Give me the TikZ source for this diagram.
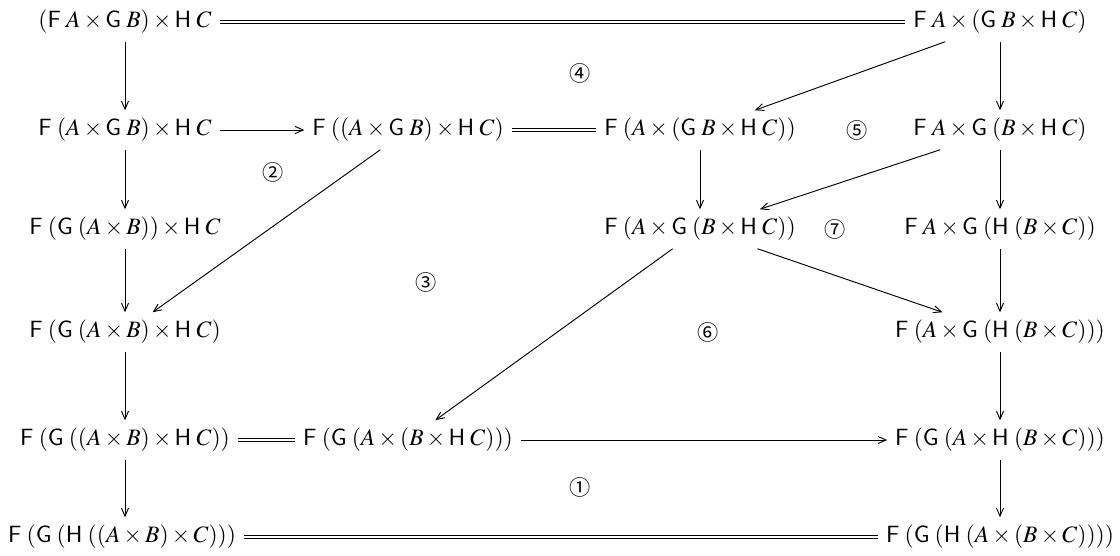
\documentclass[tikz,border=0pt]{standalone}
\usepackage[no-math]{fontspec}
\usepackage{amsmath}
\usepackage{mathptmx}
\newfontfamily\circfont{Noto Sans CJK SC}
\usetikzlibrary{arrows.meta}
\newcommand{\Fn}{\mathsf{F}\;}
\newcommand{\Gn}{\mathsf{G}\;}
\newcommand{\Hn}{\mathsf{H}\;}
\tikzset{
  obj/.style={inner sep=3.2pt},
  mor/.style={-{Straight Barb[length=3.4pt,width=3pt]}},
  iso/.style={double,double distance=1.1pt},
  cell/.style={font=\circfont\small}
}

\begin{document}
\begin{tikzpicture}[x=.425pt,y=-.425pt]
    \useasboundingbox (0,0) rectangle (1120,556);
    % objects
    \node[obj] (a11) at (125,22) {$(\Fn A\times\Gn B)\times\Hn C$};
    \node[obj] (a14) at (1000,22) {$\Fn A\times(\Gn B\times\Hn C)$};
    \node[obj] (a21) at (125,130) {$\Fn (A\times\Gn B)\times\Hn C$};
    \node[obj] (a22) at (408,130) {$\Fn ((A\times\Gn B)\times\Hn C)$};
    \node[obj] (a23) at (700,130) {$\Fn (A\times(\Gn B\times\Hn C))$};
    \node[obj] (a24) at (1000,130) {$\Fn A\times\Gn (B\times\Hn C)$};
    \node[obj] (a31) at (125,229) {$\Fn (\Gn (A\times B))\times\Hn C$};
    \node[obj] (a33) at (700,229) {$\Fn (A\times\Gn (B\times\Hn C))$};
    \node[obj] (a34) at (1000,229) {$\Fn A\times\Gn (\Hn (B\times C))$};
    \node[obj] (a41) at (125,332) {$\Fn (\Gn (A\times B)\times\Hn C)$};
    \node[obj] (a44) at (1000,332) {$\Fn (A\times\Gn (\Hn (B\times C)))$};
    \node[obj] (a51) at (125,440) {$\Fn (\Gn ((A\times B)\times\Hn C))$};
    \node[obj] (a52) at (408,440) {$\Fn (\Gn (A\times(B\times\Hn C)))$};
    \node[obj] (a54) at (1000,440) {$\Fn (\Gn (A\times\Hn (B\times C)))$};
    \node[obj] (a61) at (122,537) {$\Fn (\Gn (\Hn ((A\times B)\times C)))$};
    \node[obj] (a64) at (1000,537) {$\Fn (\Gn (\Hn (A\times(B\times C))))$};
    % cells
    \node[cell] (c1) at (580,487) {①};
    \node[cell] (c2) at (273,172) {②};
    \node[cell] (c3) at (426,282) {③};
    \node[cell] (c4) at (580,73) {④};
    \node[cell] (c5) at (857,130) {⑤};
    \node[cell] (c6) at (708,332) {⑥};
    \node[cell] (c7) at (835,229) {⑦};
    % morphisms
    \foreach \a/\b in {a11/a21,a21/a31,a31/a41,a41/a51,
                       a14/a24,a24/a34,a34/a44,a44/a54,a54/a64,
                       a14/a23,a23/a33,a24/a33,a22/a41,a33/a52,a33/a44,
                       a21/a22,a52/a54}
      \draw[mor] (\a)--(\b);
    \draw[mor] (a51)--(a51|-a61.north);
    \foreach \a/\b in {a11/a14,a22/a23,a51/a52,a61/a64}
      \draw[iso] (\a)--(\b);
\end{tikzpicture}
\end{document}
